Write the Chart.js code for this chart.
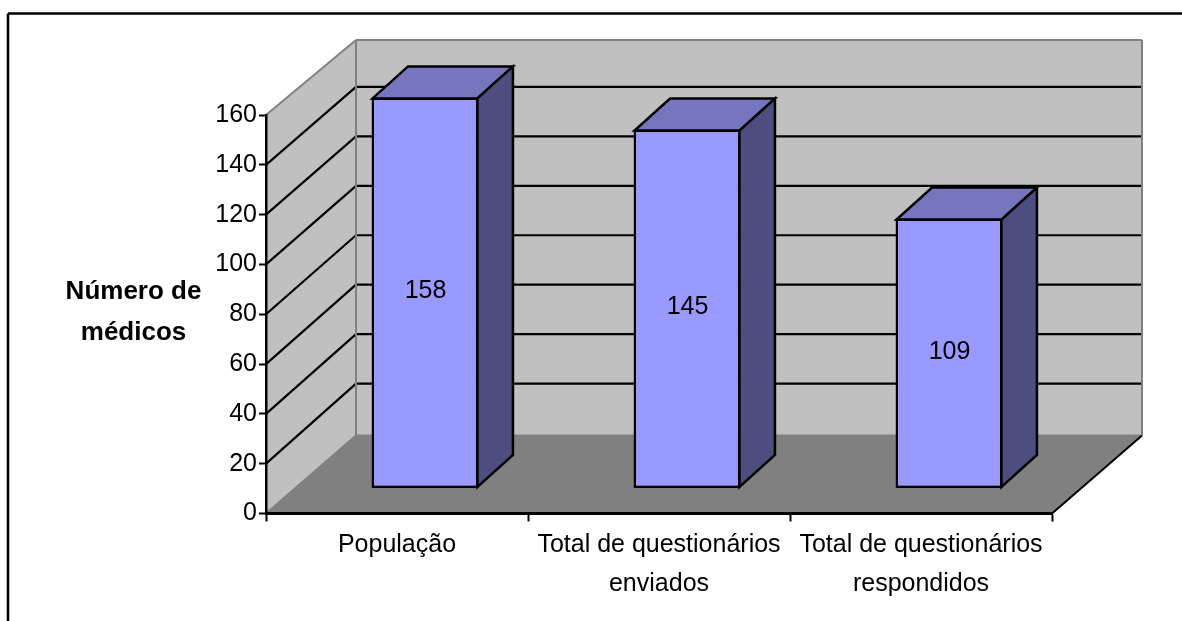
<!DOCTYPE html>
<html>
<head>
<meta charset="utf-8">
<title>Número de médicos</title>
<script src="https://cdn.jsdelivr.net/npm/chart.js@4/dist/chart.umd.min.js"></script>
<style>
  html, body { margin: 0; padding: 0; background: #fff; overflow: hidden; }
  canvas { display: block; }
</style>
</head>
<body>
<canvas id="barras" width="1182" height="621"></canvas>
<script>
const categories = [
  "População",
  ["Total de questionários", "enviados"],
  ["Total de questionários", "respondidos"],
];
const medicos = [158, 145, 109];
const yMin = 0;
const yMax = 160;
const yStep = 20;
const yTitle = ["Número de", "médicos"];

const FONT = "'Liberation Sans', Arial, sans-serif";
const FONT_SIZE = 25;

// box depth of the room and of each bar, in pixels
const ROOM_DX = 90;
const ROOM_DY = 78;
const BAR_DX = 35.5;
const BAR_DY = 32;
// the bars stand in the middle of the floor, not on the front edge
const PLANE_DX = 28;
const PLANE_DY = 25.5;
const PLANE_HEIGHT = 395.5;
// inner gridlines on the back wall sit slightly above the linear position
const BACK_GRID_SHIFT = -2.5;

function poly(ctx, pts, fill, stroke, width) {
  ctx.beginPath();
  pts.forEach((p, i) => (i ? ctx.lineTo(p[0], p[1]) : ctx.moveTo(p[0], p[1])));
  ctx.closePath();
  if (fill) {
    ctx.fillStyle = fill;
    ctx.fill();
  }
  if (stroke) {
    ctx.strokeStyle = stroke;
    ctx.lineWidth = width;
    ctx.stroke();
  }
}

function line(ctx, x1, y1, x2, y2, color, width) {
  ctx.beginPath();
  ctx.moveTo(x1, y1);
  ctx.lineTo(x2, y2);
  ctx.strokeStyle = color;
  ctx.lineWidth = width;
  ctx.stroke();
}

// shift the hidden bar axes onto the plane the bars stand on
const barPlane = {
  id: "barPlane",
  afterLayout(chart) {
    const a = chart.chartArea;
    const xb = chart.scales.xBars;
    const yb = chart.scales.yBars;
    xb.left = a.left + PLANE_DX;
    xb.right = a.right + PLANE_DX;
    xb.configure();
    yb.bottom = a.bottom - PLANE_DY;
    yb.top = yb.bottom - PLANE_HEIGHT;
    yb.configure();
  },
};

// frame, walls, floor and gridlines of the 3D room
const room = {
  id: "room",
  beforeDraw(chart) {
    const ctx = chart.ctx;
    const a = chart.chartArea;
    const y = chart.scales.y;
    const yb = chart.scales.yBars;
    const backX = a.left + ROOM_DX;
    const rightX = a.right + ROOM_DX;
    const backBottom = a.bottom - ROOM_DY;
    const backY = (v) => yb.getPixelForValue(v) + backBottom - yb.bottom;
    const backTop = backY(yMax);

    ctx.save();
    line(ctx, 8, 13.5, 1182, 13.5, "#000", 2.5);
    line(ctx, 8, 13.5, 8, 621, "#000", 2.5);

    poly(ctx, [[backX, backTop], [rightX, backTop], [rightX, backBottom], [backX, backBottom]], "#c0c0c0");
    poly(ctx, [[a.left, a.top], [backX, backTop], [backX, backBottom], [a.left, a.bottom]], "#c0c0c0");

    y.ticks.forEach((t) => {
      if (t.value === yMin || t.value === yMax) return;
      const yf = y.getPixelForValue(t.value);
      const yk = backY(t.value) + BACK_GRID_SHIFT;
      line(ctx, a.left, yf, backX, yk, "#000", 2.2);
      line(ctx, backX, yk, rightX, yk, "#000", 2.2);
    });

    poly(ctx, [[a.left, a.bottom], [a.right, a.bottom], [rightX, backBottom], [backX, backBottom]], "#808080");

    ctx.lineJoin = "miter";
    line(ctx, a.left, a.top, backX, backTop, "#808080", 2);
    line(ctx, backX, backTop, rightX, backTop, "#808080", 2);
    line(ctx, rightX, backTop, rightX, backBottom, "#808080", 2);
    line(ctx, backX, backTop, backX, backBottom, "#808080", 2);
    line(ctx, a.left, a.bottom, backX, backBottom, "#808080", 2);
    line(ctx, backX, backBottom, rightX, backBottom, "#808080", 2);
    line(ctx, a.right, a.bottom, rightX, backBottom, "#000", 2);
    ctx.restore();
  },
  // top and side faces of the bars, value labels and the axis title
  afterDatasetsDraw(chart) {
    const ctx = chart.ctx;
    const bars = chart.getDatasetMeta(0).data;
    ctx.save();
    ctx.lineJoin = "miter";
    bars.forEach((bar, i) => {
      const l = bar.x - bar.width / 2 + 1;
      const r = bar.x + bar.width / 2 - 1;
      const t = bar.y + 1;
      const b = bar.base - 1;
      poly(ctx, [[l, t], [r, t], [r + BAR_DX, t - BAR_DY], [l + BAR_DX, t - BAR_DY]], "#7676bf", "#000", 2.5);
      poly(ctx, [[r, t], [r + BAR_DX, t - BAR_DY], [r + BAR_DX, b - BAR_DY], [r, b]], "#4d4d80", "#000", 2.5);

      ctx.fillStyle = "#000";
      ctx.font = FONT_SIZE + "px " + FONT;
      ctx.textAlign = "center";
      ctx.textBaseline = "middle";
      ctx.fillText(String(medicos[i]), bar.x + 0.5, (t + b) / 2 - 1.5);
    });

    ctx.font = "bold 26px " + FONT;
    ctx.fillText(yTitle[0], 133.5, 292);
    ctx.fillText(yTitle[1], 133.5, 333);
    ctx.restore();
  },
};

new Chart(document.getElementById("barras"), {
  type: "bar",
  data: {
    labels: categories,
    datasets: [
      {
        data: medicos,
        xAxisID: "xBars",
        yAxisID: "yBars",
        backgroundColor: "#9999ff",
        borderColor: "#000",
        borderWidth: 2.5,
        borderSkipped: false,
        barPercentage: 0.408,
        categoryPercentage: 1,
        clip: false,
      },
    ],
  },
  options: {
    responsive: false,
    animation: false,
    layout: { padding: { top: 115, right: 130, left: 0, bottom: 0 } },
    plugins: {
      legend: { display: false },
      title: { display: false },
      tooltip: { enabled: false },
    },
    scales: {
      x: {
        type: "category",
        position: "bottom",
        offset: true,
        afterFit: (s) => { s.height = 107.5; },
        grid: { offset: true, drawOnChartArea: false, tickLength: 8, tickColor: "#000", tickWidth: 2 },
        border: { color: "#000", width: 3 },
        ticks: {
          color: "#000",
          padding: 4.5,
          maxRotation: 0,
          autoSkip: false,
          font: { family: FONT, size: FONT_SIZE, lineHeight: "38.5px" },
        },
      },
      y: {
        type: "linear",
        position: "left",
        min: yMin,
        max: yMax,
        afterFit: (s) => { s.width = 266; },
        grid: { drawOnChartArea: false, tickLength: 7, tickColor: "#000", tickWidth: 2 },
        border: { color: "#000", width: 2.5 },
        ticks: {
          stepSize: yStep,
          color: "#000",
          padding: 2,
          font: { family: FONT, size: FONT_SIZE },
        },
      },
      xBars: { type: "category", position: "bottom", offset: true, display: false },
      yBars: { type: "linear", position: "left", min: yMin, max: yMax, display: false },
    },
  },
  plugins: [barPlane, room],
});
</script>
</body>
</html>
